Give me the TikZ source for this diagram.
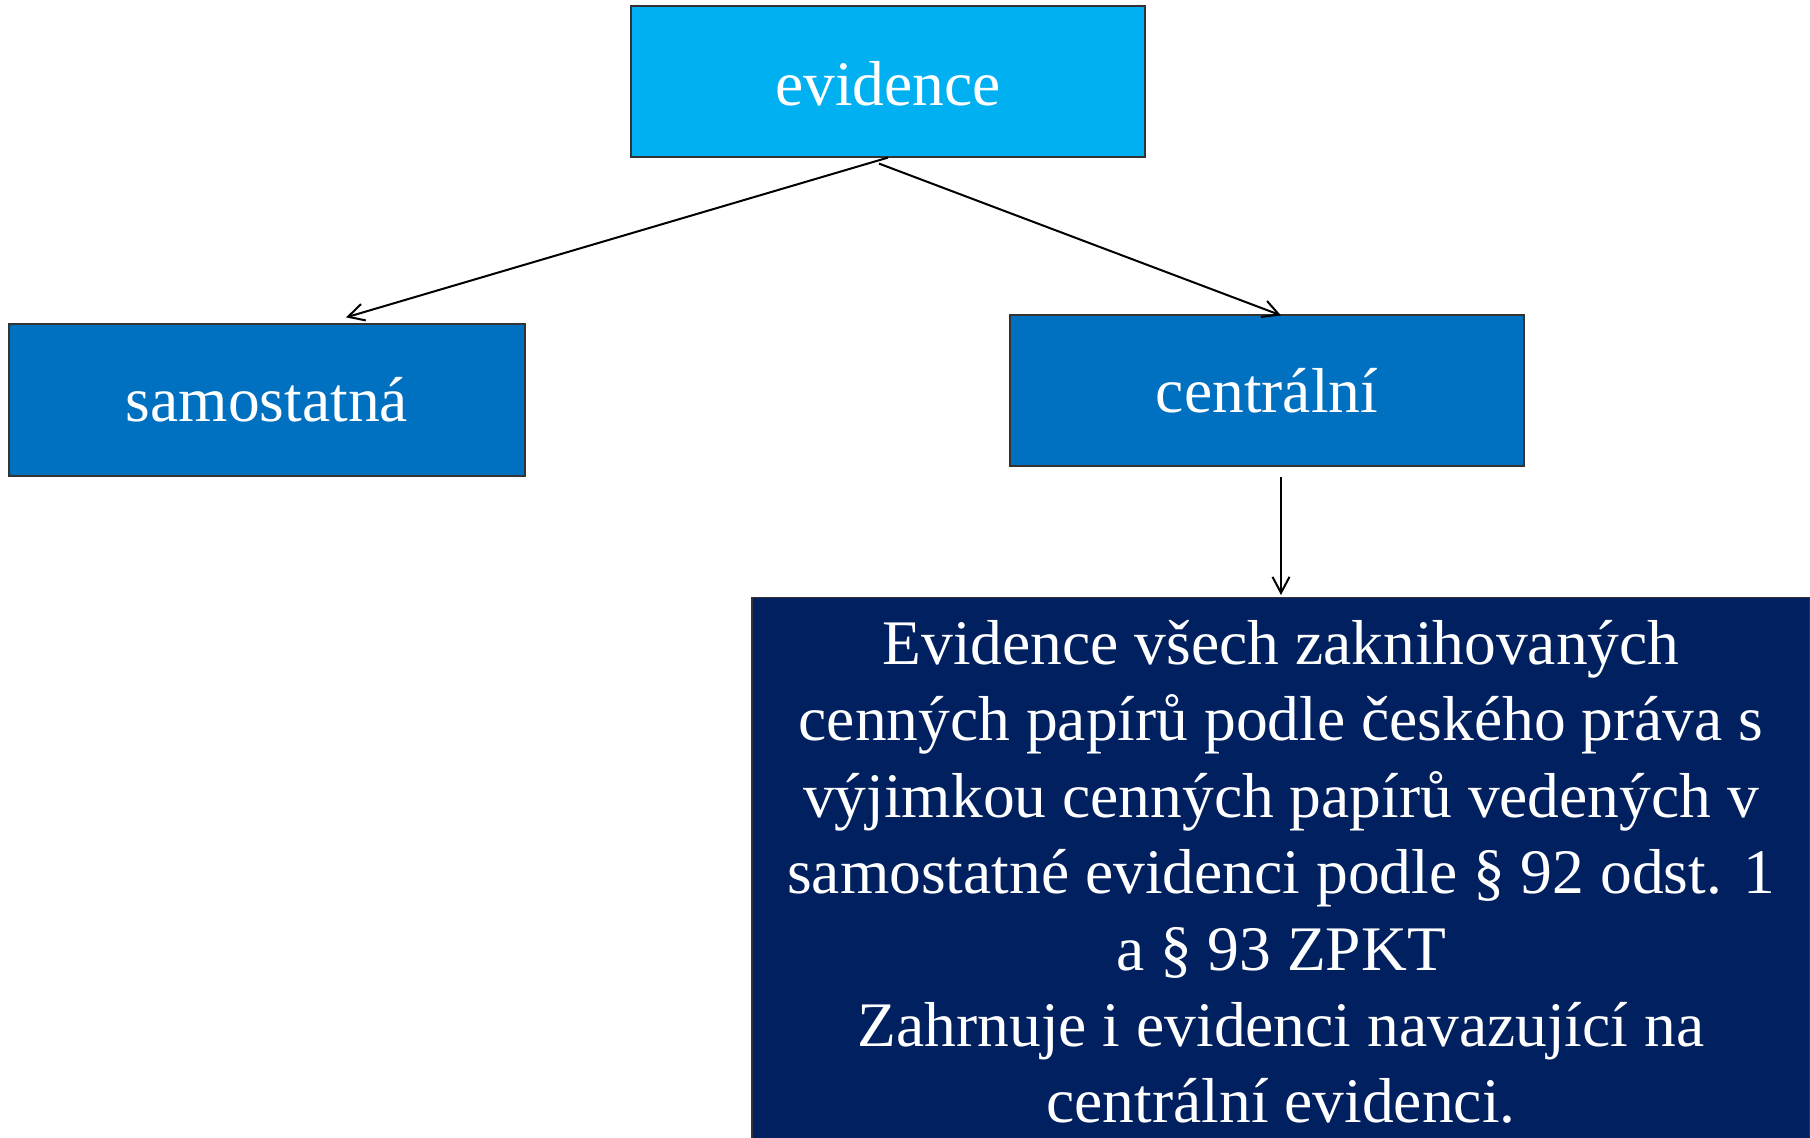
\documentclass[tikz,border=0pt]{standalone}
\usepackage{fontspec}
\setmainfont{Liberation Serif}
\usetikzlibrary{arrows.meta}
\definecolor{evblue}{HTML}{00B0F0}
\definecolor{midblue}{HTML}{0070C0}
\definecolor{navyblue}{HTML}{002060}
\begin{document}
\begin{tikzpicture}[x=0.5pt,y=-0.5pt,
  box/.style={draw=black!80, line width=0.6pt, inner sep=0pt, text=white,
    font=\fontsize{31.75}{38.2}\selectfont, minimum width=257pt, minimum height=75.5pt},
  conn/.style={line width=1pt, -{Straight Barb[length=8pt,width=8.5pt]}}]
\useasboundingbox (0,0) rectangle (1810,1138);
\clip (0,0) rectangle (1810,1138);
\node[box, fill=evblue, text height=24pt] (ev) at (888,81.5) {evidence};
\node[box, fill=midblue, minimum width=258pt, minimum height=76pt] (sam) at (267,400) {samostatná};
\node[box, fill=midblue] (cen) at (1267,390.5) {centrální};
\node[box, fill=navyblue, minimum width=529pt, minimum height=300pt, anchor=north] (info) at (1281,597) {};
\node[text=white, font=\fontsize{31.75}{38.2}\selectfont, align=center, anchor=north, inner sep=0pt] (infotext) at (1281,620)
  {Evidence všech zaknihovaných\\cenných papírů podle českého práva s\\výjimkou cenných papírů vedených v\\samostatné evidenci podle § 92 odst. 1\\a § 93 ZPKT\\Zahrnuje i evidenci navazující na\\centrální evidenci.};
\draw[conn] (ev.south) -- ([xshift=39.5pt,yshift=3pt]sam.north);
\draw[conn] ([xshift=-4.5pt,yshift=-3pt]ev.south) -- ([xshift=7pt,yshift=-0.5pt]cen.north);
\draw[conn] ([xshift=7pt,yshift=-5pt]cen.south) -- ([yshift=1pt]info.north);
\end{tikzpicture}
\end{document}
